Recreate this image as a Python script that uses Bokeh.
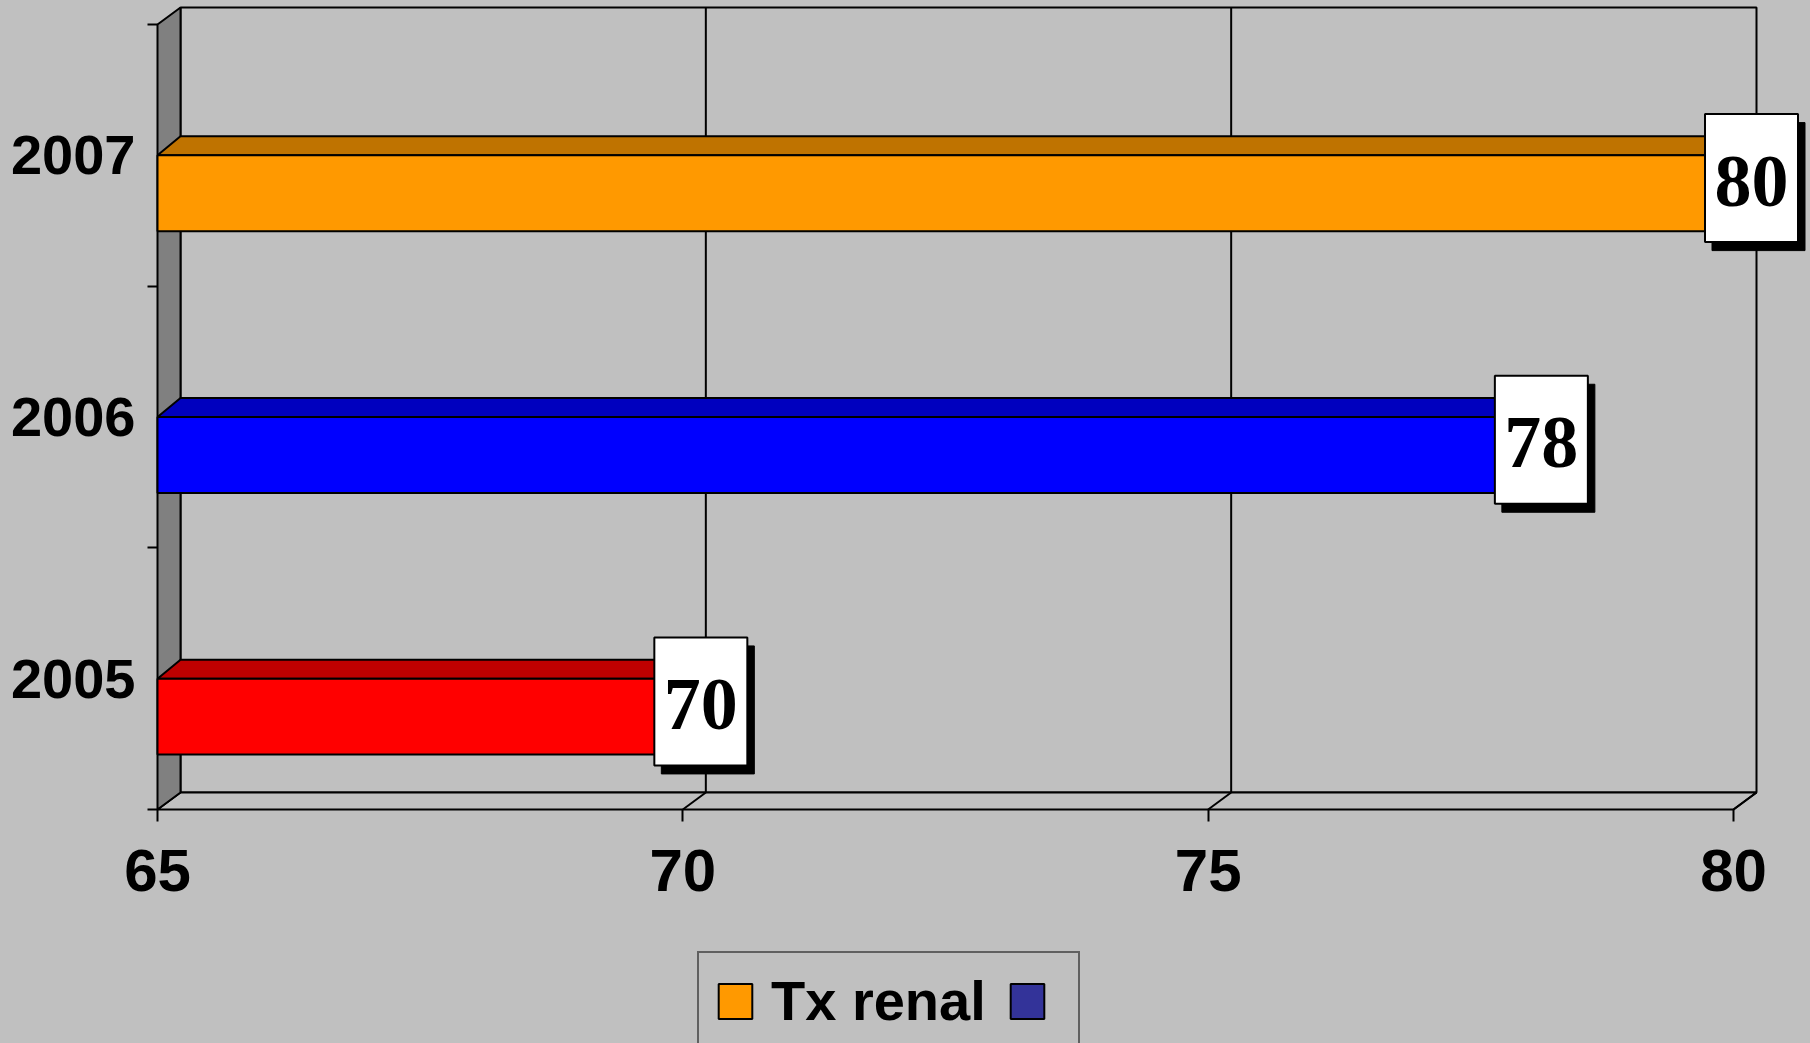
from bokeh.plotting import figure
from bokeh.models import (Range1d, FixedTicker, Legend, LegendItem,
                          GlobalInlineStyleSheet, ColumnDataSource)
from bokeh.core.properties import value
from bokeh.embed import file_html
from bokeh.resources import INLINE

# ---------------- data ----------------
years = ["2005", "2006", "2007"]
rates = [70, 78, 80]
front_colors = ["#FF0000", "#0000FF", "#FF9900"]
top_colors = ["#BF0000", "#0000BF", "#BF7300"]
x_ticks = [65, 70, 75, 80]
series_labels = ["Tx renal", ""]
series_colors = ["#FF9900", "#333399"]

# ---------------- geometry helpers (pixel scale of the frame) ----------------
X0, X1 = x_ticks[0], x_ticks[-1]
PXX = 1576 / 15.0          # px per x unit
PYY = 785 / 3.0            # px per category unit
DX = 23 / PXX              # depth offset in x units
DYW = 17 / PYY             # depth offset of walls in y units
DYB = 19 / PYY             # depth offset of bar tops
BAR_H = 0.29
YB, YT = -0.5, len(years) - 0.5
FW, FH = 1810, 1043
LEFT_GAP = 157             # px from the frame left to the front wall line
BOTTOM_GAP = FH - 809      # px from the front floor line to the frame bottom

FONT = "Liberation Sans"
BG = "#C0C0C0"

x_start = X0 - LEFT_GAP / PXX
y_start = YB - BOTTOM_GAP / PYY
p = figure(frame_width=FW, frame_height=FH,
           min_border_left=0, min_border_right=0,
           min_border_top=0, min_border_bottom=0,
           x_range=Range1d(x_start, x_start + FW / PXX),
           y_range=Range1d(y_start, y_start + FH / PYY),
           output_backend="svg", toolbar_location=None,
           background_fill_color=BG, border_fill_color=BG)
p.outline_line_color = None
p.grid.visible = False
p.stylesheets = [GlobalInlineStyleSheet(
    css="html, body { background-color: #C0C0C0; overflow: hidden; }")]

# ---------------- axes ----------------
xa = p.xaxis[0]
xa.fixed_location = YB
xa.ticker = FixedTicker(ticks=x_ticks)
xa.axis_line_color = None
xa.major_tick_in = 0
xa.major_tick_out = 12
xa.major_tick_line_width = 2
xa.major_tick_line_color = "black"
xa.minor_tick_line_color = None
xa.major_label_text_font = FONT
xa.major_label_text_font_style = "bold"
xa.major_label_text_font_size = "60px"
xa.major_label_text_color = "black"
xa.major_label_standoff = 28

ya = p.yaxis[0]
ya.fixed_location = X0
ya.ticker = FixedTicker(ticks=list(range(len(years))),
                        minor_ticks=[i - 0.5 for i in range(len(years) + 1)])
ya.major_label_overrides = {i: y for i, y in enumerate(years)}
ya.axis_line_color = None
ya.major_tick_in = 0
ya.major_tick_out = 0
ya.minor_tick_in = 0
ya.minor_tick_out = 10
ya.minor_tick_line_width = 2
ya.minor_tick_line_color = "black"
ya.major_label_text_font = FONT
ya.major_label_text_font_style = "bold"
ya.major_label_text_font_size = "56px"
ya.major_label_text_color = "black"
ya.major_label_standoff = 12

# legend proxy for the empty-named series (hidden behind the back wall)
proxy = p.quad(left=[X1], right=[X1], top=[YB + DYW], bottom=[YB + DYW],
               fill_color=series_colors[1], line_color="black", line_width=2)

# ---------------- 3D box ----------------
p.quad(left=[X0 + DX], right=[X1 + DX], bottom=[YB + DYW], top=[YT + DYW],
       fill_color=BG, line_color="black", line_width=2)
p.patch([X0, X1, X1 + DX, X0 + DX], [YB, YB, YB + DYW, YB + DYW],
        fill_color=BG, line_color="black", line_width=2)
inner = [t for t in x_ticks if X0 < t < X1]
p.segment(x0=[t + DX for t in inner], y0=[YB + DYW] * len(inner),
          x1=[t + DX for t in inner], y1=[YT + DYW] * len(inner),
          line_color="black", line_width=2)
later = [t for t in x_ticks if t > X0]
p.segment(x0=later, y0=[YB] * len(later),
          x1=[t + DX for t in later], y1=[YB + DYW] * len(later),
          line_color="black", line_width=2)
p.patch([X0, X0, X0 + DX, X0 + DX], [YB, YT, YT + DYW, YB + DYW],
        fill_color="#808080", line_color="black", line_width=2)

# ---------------- bars ----------------
idx = list(range(len(years)))
p.patches(xs=[[X0, X0 + DX, v + DX, v] for v in rates],
          ys=[[i, i + DYB, i + DYB, i] for i in idx],
          fill_color=top_colors, line_color="black", line_width=2)
p.patches(xs=[[v, v + DX, v + DX, v] for v in rates],
          ys=[[i, i + DYB, i - BAR_H + DYB, i - BAR_H] for i in idx],
          fill_color=top_colors, line_color="black", line_width=2)
bars = ColumnDataSource(dict(left=[X0] * len(rates), right=rates,
                             bottom=[i - BAR_H for i in idx], top=idx,
                             color=front_colors))
bar_r = p.quad(left="left", right="right", bottom="bottom", top="top",
               fill_color="color", line_color="black", line_width=2,
               source=bars)

# ---------------- data labels ----------------
lx = [v + 18 / PXX for v in rates]
ly = [i - 0.087 for i in idx]
p.rect(x=[x + 7 / PXX for x in lx], y=[y - 8.5 / PYY for y in ly],
       width=93, height=128, width_units="screen", height_units="screen",
       fill_color="black", line_color="black")
p.rect(x=lx, y=ly, width=93, height=128, width_units="screen",
       height_units="screen", fill_color="white", line_color="black",
       line_width=2)
p.text(x=lx, y=ly, text=[str(v) for v in rates], y_offset=3,
       text_font=value("Liberation Serif"), text_font_style="bold",
       text_font_size="74px", text_align="center", text_baseline="middle",
       text_color="black")

# ---------------- legend ----------------
orange_idx = front_colors.index(series_colors[0])
items = [LegendItem(label=value(series_labels[0]), renderers=[bar_r],
                    index=orange_idx),
         LegendItem(label=value(series_labels[1]), renderers=[proxy])]
legend = Legend(items=items, orientation="horizontal", location=(697, -7),
                glyph_width=42, glyph_height=44, label_standoff=15,
                label_width=0, spacing=20, padding=15, margin=0,
                label_text_font=FONT, label_text_font_style="bold",
                label_text_font_size="56px", label_text_color="black",
                border_line_color="black", border_line_width=2,
                background_fill_color=BG, background_fill_alpha=1)
p.add_layout(legend, "center")

open("out.html", "w").write(file_html(p, INLINE))
